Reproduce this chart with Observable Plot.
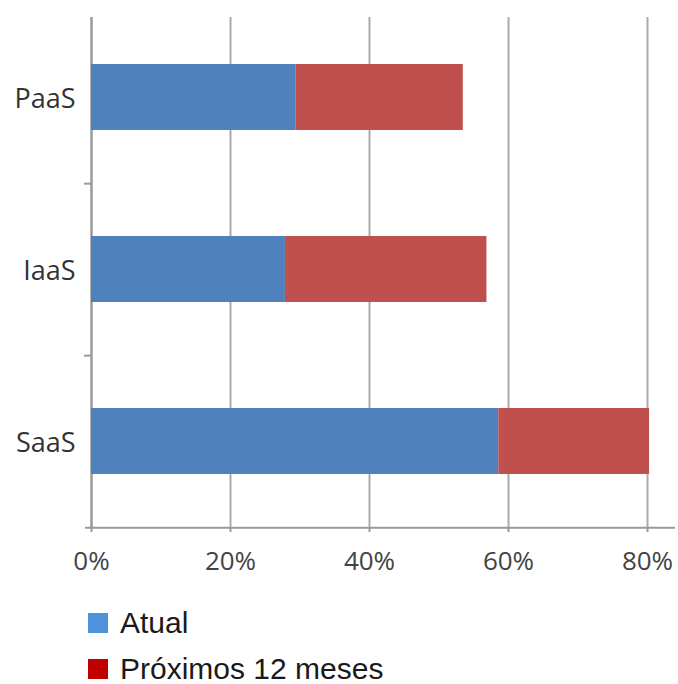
<!DOCTYPE html>
<html>
<head>
<meta charset="utf-8">
<script src="https://cdn.jsdelivr.net/npm/d3@7"></script>
<script src="https://cdn.jsdelivr.net/npm/@observablehq/plot@0.6"></script>
<style>
  html, body { margin: 0; padding: 0; background: #fff; overflow: hidden; }
  #chart { width: 678px; }
  .legend { padding-top: 16px; font-family: "Liberation Sans", Arial, sans-serif; font-size: 30px; color: #1a1a1a; }
  .legend .row { display: flex; align-items: center; height: 30px; margin-bottom: 16px; padding-left: 88px; }
  .legend .row:last-child { margin-bottom: 0; }
  .legend .sw { width: 20px; height: 20px; margin-right: 12px; }
  .legend span { line-height: 30px; }
</style>
</head>
<body>
<div id="chart"></div>
<script>
const categories = ["PaaS", "IaaS", "SaaS"];
const series = ["Atual", "Próximos 12 meses"];
const atual = [29.4, 27.9, 58.6];
const proximos = [24.1, 29.0, 21.7];
const xTicks = [0, 20, 40, 60, 80];
const barColors = ["#4f81bd", "#c0504d"];
const legendColors = ["#4f93d8", "#c00000"];

const data = [];
categories.forEach((c, i) => {
  data.push({cat: c, series: series[0], value: atual[i]});
  data.push({cat: c, series: series[1], value: proximos[i]});
});

const W = 678, H = 592, mTop = 10, mBottom = 65;
const step = (H - mTop - mBottom) / categories.length;

const chart = Plot.plot({
  width: W,
  height: H,
  marginLeft: 91,
  marginRight: 31,
  marginTop: mTop,
  marginBottom: mBottom,
  style: {background: "#fff"},
  x: {domain: [0, 80], ticks: xTicks},
  y: {domain: categories, type: "band", padding: 0},
  color: {domain: series, range: barColors},
  marks: [
    Plot.ruleX(xTicks.slice(1), {stroke: "#ababab", strokeWidth: 2, insetTop: 7}),
    Plot.ruleX([0], {stroke: "#9a9a9a", strokeWidth: 2.5, insetTop: 7}),
    Plot.barX(data, Plot.stackX({y: "cat", x: "value", fill: "series", insetTop: 53, insetBottom: 53})),
    Plot.ruleY(categories.slice(0, 2), {x1: 0, x2: 0, insetLeft: -7, dy: step / 2, stroke: "#9a9a9a", strokeWidth: 2}),
    Plot.ruleY([categories[2]], {x1: 0, x2: 80, insetLeft: -6, insetRight: -28, dy: step / 2, stroke: "#9a9a9a", strokeWidth: 2}),
    Plot.axisY({tickSize: 0, tickPadding: 16, fontSize: 27, fontFamily: "Open Sans", fill: "#333", label: null, dy: 2}),
    Plot.axisX({ticks: xTicks, tickSize: 5, tickPadding: 19, fontSize: 26, fontFamily: "Open Sans", fill: "#444", stroke: "#9a9a9a", strokeWidth: 2, tickFormat: d => d + "%", label: null, style: {letterSpacing: "-1px"}})
  ]
});
document.getElementById("chart").appendChild(chart);

const legend = document.createElement("div");
legend.className = "legend";
series.forEach((s, i) => {
  const row = document.createElement("div");
  row.className = "row";
  const sw = document.createElement("div");
  sw.className = "sw";
  sw.style.background = legendColors[i];
  const t = document.createElement("span");
  t.textContent = s;
  row.appendChild(sw);
  row.appendChild(t);
  legend.appendChild(row);
});
document.getElementById("chart").appendChild(legend);
</script>
</body>
</html>
